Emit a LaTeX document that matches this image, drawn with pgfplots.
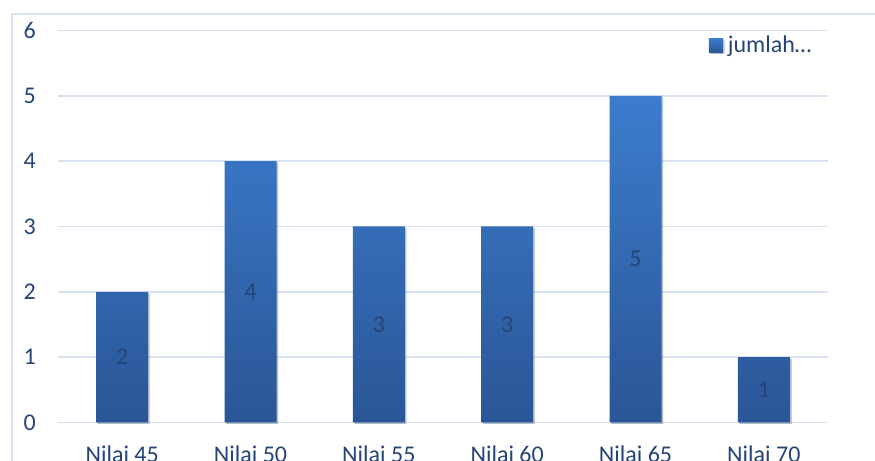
\documentclass[border=0pt]{standalone}
\usepackage{pgfplots}
\pgfplotsset{compat=1.18}
\usepackage{fontspec}
\setmainfont{Carlito}
\usetikzlibrary{shadows}
\definecolor{gridc}{RGB}{217,226,242}
\definecolor{txt}{RGB}{38,68,120}
\definecolor{bartop}{RGB}{60,124,206}
\definecolor{barbot}{RGB}{42,86,150}
\newcommand{\lbl}{\fontsize{24bp}{28bp}\selectfont}
\begin{document}
\begin{tikzpicture}
\draw[gridc, line width=2.2bp] (12bp,0bp) -- (12bp,447bp) -- (880bp,447bp);
\begin{axis}[
  at={(58bp,38.5bp)}, anchor=south west, scale only axis,
  width=770bp, height=392bp,
  xmin=-0.5, xmax=5.5, ymin=0, ymax=6,
  ytick={0,1,2,3,4,5,6}, xtick={0,1,2,3,4,5},
  xticklabels={Nilai 45,Nilai 50,Nilai 55,Nilai 60,Nilai 65,Nilai 70},
  axis line style={draw=none}, major tick length=0pt,
  ymajorgrids, grid style={gridc, line width=1.6bp},
  yticklabel style={text=txt, font=\lbl, inner sep=0pt, xshift=-22bp},
  xticklabel style={text=txt, font=\lbl, inner sep=0pt, yshift=-23bp},
  /pgf/number format/assume math mode=true,
  legend style={draw=none, fill=none, inner sep=0pt, at={(0.845,0.962)}, anchor=west,
    font=\lbl, text=txt, nodes={inner sep=2.5bp}, column sep=2.5bp},
  legend image code/.code={\fill[top color=bartop, bottom color=barbot] (0bp,-7bp) rectangle (14bp,7bp);},
  clip=false,
]
\addplot[ybar, bar width=52bp, draw=none, top color=bartop, bottom color=barbot,
  drop shadow={shadow xshift=1.5bp, shadow yshift=-1.5bp, opacity=0.25, fill=black!50},
  nodes near coords,
  visualization depends on={rawy \as \rawy},
  every node near coord/.append style={anchor=center, inner sep=0pt, font=\lbl, text=txt,
    shift={(axis direction cs:0,-\rawy/2)}},
] coordinates {(0,2) (1,4) (2,3) (3,3) (4,5) (5,1)};
\addlegendentry{jumlah…}
\end{axis}
\pgfresetboundingbox
\useasboundingbox (0bp,0bp) rectangle (875bp,461bp);
\end{tikzpicture}
\end{document}
